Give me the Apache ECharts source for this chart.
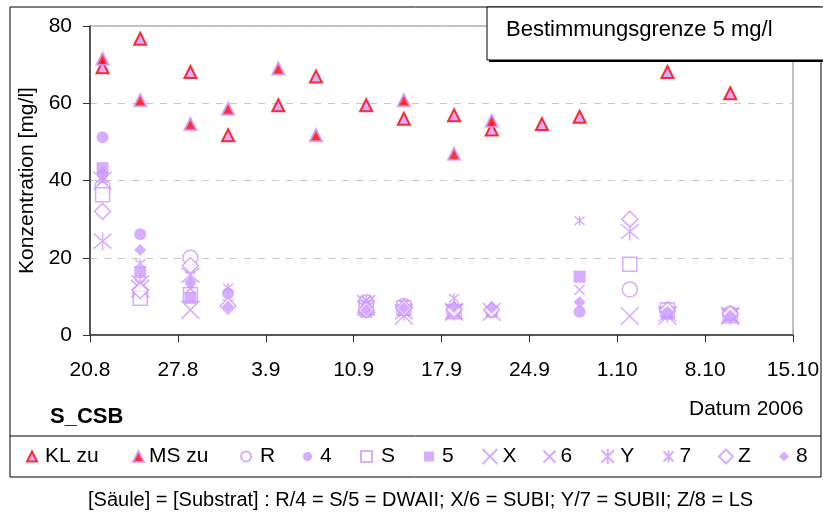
<!DOCTYPE html>
<html>
<head>
<meta charset="utf-8">
<script src="https://cdn.jsdelivr.net/npm/echarts@6/dist/echarts.min.js"></script>
<style>
  html, body { margin: 0; padding: 0; background: #fff; }
  #chart { width: 823px; height: 520px; }
</style>
</head>
<body>
<div id="chart"></div>
<script>
// sampling dates (day.month 2006)
const dates = ['21.8', '24.8', '28.8', '31.8', '4.9', '7.9', '11.9', '14.9', '18.9', '21.9', '25.9', '28.9', '2.10', '5.10', '10.10'];
const xTickLabels = ['20.8', '27.8', '3.9', '10.9', '17.9', '24.9', '1.10', '8.10', '15.10'];

const klZu = [69.3, 76.7, 68.1, 51.7, 59.5, 66.9, 59.5, 56.0, 56.9, 53.2, 54.6, 56.5, null, 68.1, 62.6];
const msZu = [71.5, 60.8, 54.6, 58.6, 69.0, 51.7, null, 60.8, 46.9, 55.5, null, null, null, null, null];
const sR  = [38.5, 11.0, 20.0, null, null, null, 8.5, 7.5, null, null, null, null, 11.8, 6.5, 5.5];
const s4  = [51.2, 26.1, 11.0, 10.8, null, null, 7.0, 7.0, 6.0, 6.0, null, 6.0, null, 6.0, 5.0];
const sS  = [36.3, 9.5, 10.5, null, null, null, 7.0, 7.0, 6.0, null, null, null, 18.3, 6.5, 5.0];
const s5  = [43.2, 16.3, 9.6, null, null, null, 6.0, 6.5, 6.0, 6.0, null, 15.1, null, 5.5, 5.0];
const sX  = [40.0, 12.0, 6.5, null, null, null, 8.0, 5.0, 6.0, 6.0, null, null, 4.9, 5.0, 5.0];
const s6  = [40.0, 13.0, 12.0, 8.0, null, null, 9.0, 6.0, 7.0, null, null, 11.7, null, 5.5, 5.0];
const sY  = [24.3, 13.5, 15.5, null, null, null, 7.0, 6.0, 6.0, null, null, null, 26.8, 5.5, 5.0];
const s7  = [40.5, 18.5, 17.0, 12.2, null, null, 9.0, 8.0, 9.5, null, null, 29.6, null, 6.0, 5.5];
const sZ  = [32.0, 11.5, 18.0, 7.5, null, null, 6.5, 7.0, 6.5, 6.5, null, null, 30.0, 6.5, 5.5];
const s8  = [42.0, 22.0, 13.8, 7.3, null, null, 6.5, 7.0, 7.3, 7.1, null, 8.5, null, 6.0, 5.0];

const START = new Date(2006, 7, 20); // 20.8.2006 = day 0
function dayOf(s) {
  const p = s.split('.');
  return Math.round((new Date(2006, +p[1] - 1, +p[0]) - START) / 86400000);
}
function pts(vals) {
  return dates.map((d, i) => [dayOf(d), vals[i]]).filter(p => p[1] !== null);
}

const lilac = '#CC99FF';
const FONT = 'Liberation Sans, Arial, sans-serif';
const pX = 'path://M0,0L10,10M10,0L0,10';
const pStar = 'path://M0,0L10,10M10,0L0,10M5,-1L5,11';

function scat(name, vals, symbol, size, style) {
  return {
    name: name,
    type: 'scatter',
    data: pts(vals),
    symbol: symbol,
    symbolSize: size,
    itemStyle: style
  };
}
const hollow = { color: '#fff', borderColor: lilac, borderWidth: 1.5 };
const filled = { color: lilac };
const lines = { color: 'none', borderColor: lilac, borderWidth: 1.5 };

// legend slots: [name, left, icon size, text padding]
const legendSlots = [
  ['KL zu', 26, 10, 3], ['MS zu', 132, 11, 0], ['R', 240, 10, 4], ['4', 303, 9, 3],
  ['S', 360, 11, 4], ['5', 424, 10, 3], ['X', 480, 15, 0], ['6', 541, 12, 0],
  ['Y', 599, 15, 0], ['7', 661, 12, 0], ['Z', 718, 14, 0], ['8', 779, 10, 2]
];
const legends = legendSlots.map(s => ({
  left: s[1], top: 446, padding: 0, itemWidth: s[2], itemHeight: s[2],
  textStyle: { color: '#000', fontSize: 21, fontFamily: FONT, padding: [0, 0, 0, s[3]] },
  data: [s[0]]
}));

const chart = echarts.init(document.getElementById('chart'));
chart.setOption({
  animation: false,
  textStyle: { fontFamily: FONT },
  grid: { left: 90, top: 26, right: 30, bottom: 185, show: true, borderColor: '#808080', borderWidth: 1 },
  xAxis: {
    type: 'value', min: 0, max: 56, interval: 7,
    axisLine: { lineStyle: { color: '#333', width: 1.5 } },
    axisTick: { show: true, length: 7, lineStyle: { color: '#333' } },
    axisLabel: {
      color: '#000', fontSize: 21, margin: 25, fontFamily: FONT,
      formatter: v => xTickLabels[Math.round(v / 7)]
    },
    splitLine: { show: false }
  },
  yAxis: {
    type: 'value', min: 0, max: 80, interval: 20,
    name: 'Konzentration [mg/l]', nameLocation: 'middle', nameGap: 52,
    nameTextStyle: { color: '#000', fontSize: 21, fontFamily: FONT },
    axisLine: { show: true, lineStyle: { color: '#333', width: 1.5 } },
    axisTick: { show: true, length: 7, lineStyle: { color: '#333' } },
    axisLabel: { color: '#000', fontSize: 21, margin: 18, fontFamily: FONT },
    splitLine: { lineStyle: { color: '#c8c8c8', type: [7, 7] } }
  },
  legend: legends,
  graphic: [
    { type: 'rect', shape: { x: 10, y: 7, width: 811, height: 470 }, style: { fill: 'none', stroke: '#000', lineWidth: 1 }, z: 0 },
    { type: 'line', shape: { x1: 10, y1: 436, x2: 821, y2: 436 }, style: { stroke: '#000', lineWidth: 1 } },
    { type: 'rect', shape: { x: 489, y: 9, width: 340, height: 53 }, style: { fill: '#000' }, z: 10 },
    { type: 'rect', shape: { x: 487, y: 7, width: 340, height: 53 }, style: { fill: '#fff', stroke: '#000', lineWidth: 1 }, z: 11 },
    { type: 'text', left: 506, top: 19, z: 12, style: { text: 'Bestimmungsgrenze 5 mg/l', fontSize: 22, fontFamily: FONT, fill: '#000' } },
    { type: 'text', left: 50, top: 406, style: { text: 'S_CSB', fontSize: 22, fontWeight: 'bold', fontFamily: FONT, fill: '#000' } },
    { type: 'text', left: 689, top: 399, style: { text: 'Datum 2006', fontSize: 21, fontFamily: FONT, fill: '#000' } },
    { type: 'text', left: 88, top: 490, style: { text: '[Säule] = [Substrat] : R/4 = S/5 = DWAII; X/6 = SUBI; Y/7 = SUBII; Z/8 = LS', fontSize: 20, fontFamily: FONT, fill: '#000' } }
  ],
  series: [
    scat('KL zu', klZu, 'triangle', 12, { color: lilac, borderColor: '#FF0000', borderWidth: 2 }),
    scat('MS zu', msZu, 'triangle', 12, { color: '#FF0000', borderColor: lilac, borderWidth: 2 }),
    scat('R', sR, 'circle', 15, hollow),
    scat('4', s4, 'circle', 12, filled),
    scat('S', sS, 'rect', 14, hollow),
    scat('5', s5, 'rect', 12, filled),
    scat('X', sX, pX, 18, lines),
    scat('6', s6, pX, 10, lines),
    scat('Y', sY, pStar, 18, lines),
    scat('7', s7, pStar, 10, lines),
    scat('Z', sZ, 'diamond', 16, hollow),
    scat('8', s8, 'diamond', 12, filled)
  ]
});
</script>
</body>
</html>
